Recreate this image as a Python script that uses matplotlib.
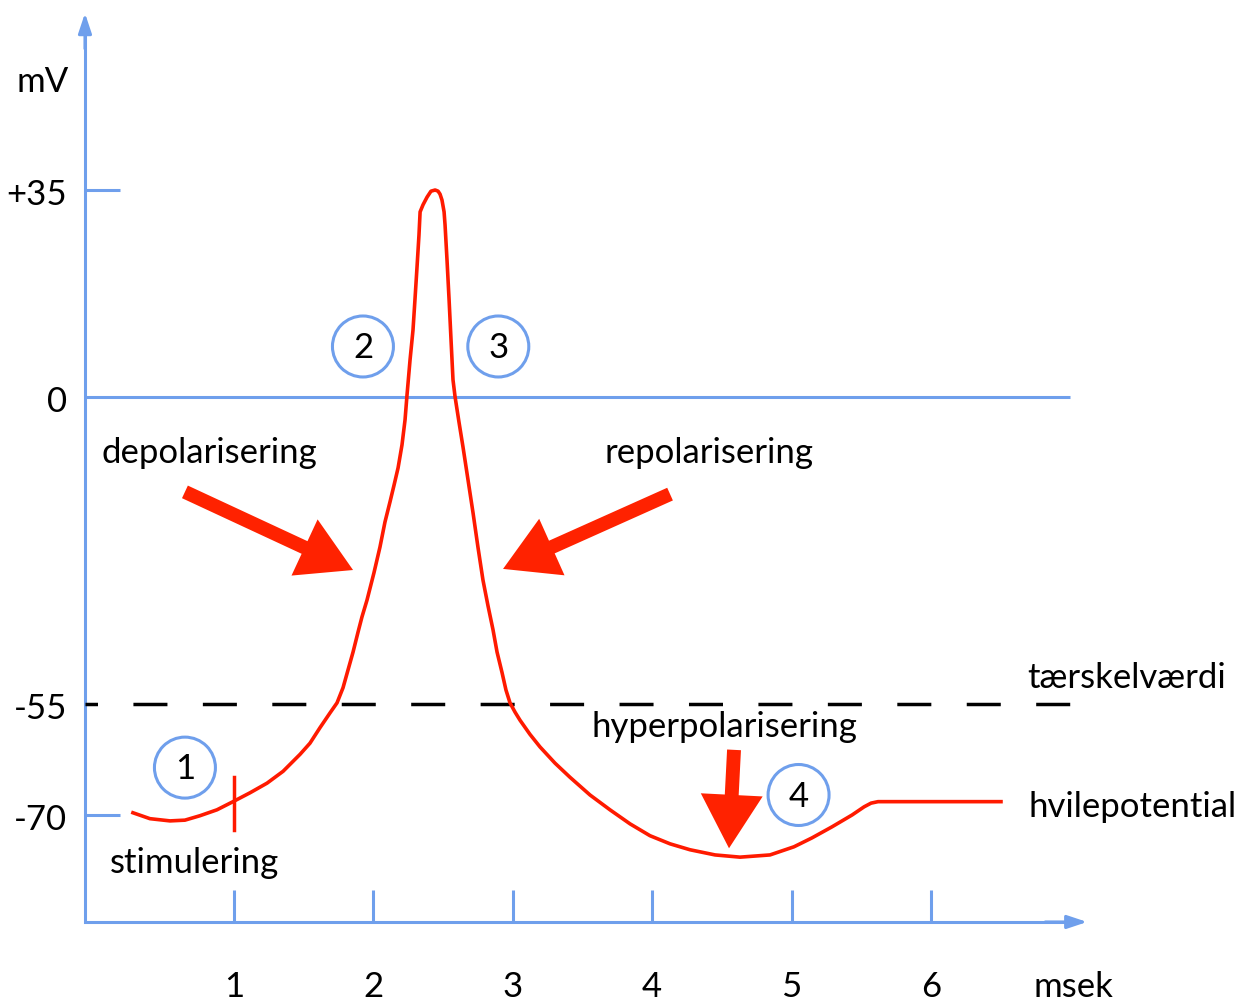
import numpy as np
import matplotlib.pyplot as plt
from matplotlib.patches import FancyArrowPatch

plt.rcParams['font.family'] = ['Lato', 'DejaVu Sans']

#------------------------------------------------------------------------------
# action potential trace (msek, mV)
#------------------------------------------------------------------------------

time_ms = [0.275, 0.397, 0.541, 0.648, 0.756, 0.878, 0.993, 1.115, 1.237, 1.352,
           1.474, 1.545, 1.617, 1.689, 1.739, 1.782, 1.818, 1.854, 1.890, 1.918,
           1.954, 2.004, 2.047, 2.083, 2.119, 2.148, 2.177, 2.205, 2.227, 2.241,
           2.263, 2.284, 2.298, 2.313, 2.327, 2.335, 2.356, 2.385, 2.413, 2.443,
           2.464, 2.478, 2.492, 2.507, 2.514, 2.528, 2.543, 2.557, 2.571, 2.586,
           2.614, 2.643, 2.679, 2.715, 2.750, 2.786, 2.822, 2.858, 2.887, 2.923,
           2.951, 2.980, 3.016, 3.052, 3.123, 3.195, 3.303, 3.410, 3.554, 3.697,
           3.841, 3.984, 4.128, 4.271, 4.451, 4.630, 4.845, 5.017, 5.146, 5.290,
           5.434, 5.520, 5.570, 5.620, 6.502]
potential_mv = [-69.7, -70.5, -70.8, -70.7, -70.1, -69.3, -68.2, -67.0, -65.7, -64.1,
                -61.8, -60.3, -58.2, -56.2, -54.8, -52.1, -48.9, -45.7, -42.1, -39.4,
                -36.4, -31.5, -26.9, -22.4, -18.8, -15.8, -12.7, -8.6, -4.1, 0.3,
                6.3, 11.3, 16.4, 22.0, 27.4, 31.3, 32.5, 33.8, 34.8, 35.0,
                34.8, 34.3, 33.3, 31.3, 29.1, 23.2, 16.4, 9.6, 2.9, 0.0,
                -4.5, -9.0, -14.9, -20.8, -26.9, -32.8, -37.4, -41.7, -45.7, -49.4,
                -52.5, -54.8, -56.1, -57.2, -59.1, -60.8, -63.0, -64.9, -67.3, -69.3,
                -71.2, -72.8, -73.9, -74.7, -75.4, -75.7, -75.4, -74.3, -73.1, -71.6,
                -70.0, -68.9, -68.4, -68.2, -68.2]

x_ticks = [1, 2, 3, 4, 5, 6]
x_tick_labels = ['1', '2', '3', '4', '5', '6']
y_ticks = [35, 0, -55, -70]
y_tick_labels = ['+35', '0', '-55', '-70']
threshold_mv = -55
stim_time = 1.0

circle_labels = ['1', '2', '3', '4']
circle_t = [0.648, 1.925, 2.896, 5.050]
circle_mv = [-63.6, 8.54, 8.54, -67.3]

# the drawing is not linear in mV: piecewise scale
mv_knots = [-120, -70, -55, 0, 35, 100]
px_knots = [-184.0, 186.0, 297.0, 604.0, 811.0, 1195.4]

def fwd(v):
    return np.interp(v, mv_knots, px_knots)

def inv(p):
    return np.interp(p, px_knots, mv_knots)

blue = '#6f9fec'
red = '#ff1a00'
red_arrow = '#ff2200'
fs = 25

fig = plt.figure(figsize=(12.49, 10.01), dpi=100)
ax = fig.add_axes([0, 0, 1, 1])
ax.set_yscale('function', functions=(fwd, inv))
ax.set_xlim(-94.6/139.4, (1249-94.6)/139.4)
ax.set_ylim(-95.14, 67.13)
ax.axis('off')

axis_x = -0.069
axis_y = -84.46
x_end = 7.12
y_end = 64.9

#------------------------------------------------------------------------------
# axes with arrow heads, ticks, reference lines
#------------------------------------------------------------------------------

ax.plot([axis_x, axis_x, x_end-0.1], [y_end-2, axis_y, axis_y], color=blue, lw=2.2,
        solid_joinstyle='miter', solid_capstyle='butt', zorder=2)
head = dict(arrowstyle='-|>,head_length=1.2,head_width=0.4', color=blue, lw=2.2,
            mutation_scale=10, shrinkA=0, shrinkB=0)
ax.annotate('', xy=(axis_x, y_end), xytext=(axis_x, y_end-6), arrowprops=head)
ax.annotate('', xy=(x_end, axis_y), xytext=(x_end-0.3, axis_y), arrowprops=head)

ax.vlines(x_ticks, axis_y, -80.14, color=blue, lw=2.2)
for v in [35, -70]:
    ax.plot([axis_x, 0.182], [v, v], color=blue, lw=2.2, solid_capstyle='butt')
ax.plot([axis_x, 7.0], [0, 0], color=blue, lw=2.2, solid_capstyle='butt')
ax.plot([axis_x, 7.0], [threshold_mv, threshold_mv], color='black', lw=2.5,
        linestyle=(6.2, (9.8, 10.2)))

for t, lab in zip(x_ticks, x_tick_labels):
    ax.annotate(lab, xy=(t, axis_y), xytext=(0, -54), textcoords='offset points',
                ha='center', va='baseline', fontsize=fs)
ax.annotate('msek', xy=(7.02, axis_y), xytext=(0, -54), textcoords='offset points',
            ha='center', va='baseline', fontsize=fs)
for v, lab in zip(y_ticks, y_tick_labels):
    ax.annotate(lab, xy=(axis_x, v), xytext=(-13, -10.5), textcoords='offset points',
                ha='right', va='baseline', fontsize=fs)
ax.text(-0.557, 51.6, 'mV', ha='left', va='baseline', fontsize=fs)

#------------------------------------------------------------------------------
# trace and stimulus mark
#------------------------------------------------------------------------------

ax.plot(time_ms, potential_mv, color=red, lw=2.6, solid_joinstyle='round', zorder=3)
ax.plot([stim_time, stim_time], [-64.9, -72.0], color=red, lw=2.5, zorder=3)

#------------------------------------------------------------------------------
# labels, arrows, numbered circles
#------------------------------------------------------------------------------

ax.text(0.053, -11.8, 'depolarisering', ha='left', va='baseline', fontsize=fs)
ax.text(3.661, -11.8, 'repolarisering', ha='left', va='baseline', fontsize=fs)
ax.text(3.568, -59.5, 'hyperpolarisering', ha='left', va='baseline', fontsize=fs)
ax.text(6.689, -52.1, 'tærskelværdi', ha='left', va='baseline', fontsize=fs)
ax.text(6.696, -70.3, 'hvilepotential', ha='left', va='baseline', fontsize=fs)
ax.text(0.110, -77.8, 'stimulering', ha='left', va='baseline', fontsize=fs)

arrow_style = 'simple,head_length=3.85,head_width=4.46,tail_width=1.0'
for a, b in [((0.648, -17.0), (1.854, -31.0)),
             ((4.128, -17.4), (2.930, -30.8)),
             ((4.587, -61.2), (4.551, -74.5))]:
    ax.add_patch(FancyArrowPatch(a, b, arrowstyle=arrow_style, mutation_scale=10,
                                 color=red_arrow, lw=0, shrinkA=0, shrinkB=0, zorder=4))

ax.scatter(circle_t, circle_mv, s=1928, facecolors='none', edgecolors=blue,
           linewidths=2.2, zorder=5)
for t, v, lab in zip(circle_t, circle_mv, circle_labels):
    ax.annotate(lab, xy=(t, v), xytext=(0, -8.5), textcoords='offset points',
                ha='center', va='baseline', fontsize=fs)

plt.savefig('out.png', dpi=100)
